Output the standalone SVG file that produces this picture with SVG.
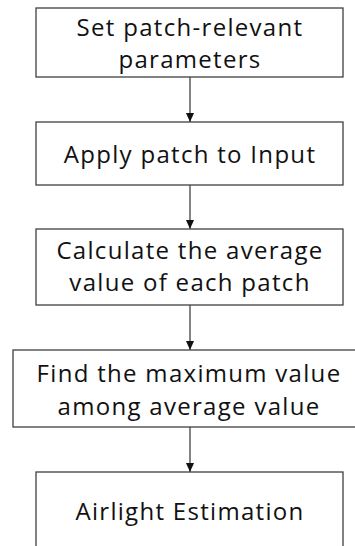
<svg xmlns="http://www.w3.org/2000/svg" width="355" height="546" viewBox="0 0 355 546">
<style>
.box{fill:#fff;stroke:#404040;stroke-width:1.3}
.t{font-family:"Open Sans","Noto Sans",sans-serif;font-size:24px;fill:#111;text-anchor:middle;letter-spacing:1.3px}
.c{stroke:#333;stroke-width:1.2;fill:none;marker-end:url(#ah)}
</style>
<defs>
<marker id="ah" markerWidth="9" markerHeight="8" refX="9" refY="4" orient="auto" markerUnits="userSpaceOnUse">
<path d="M0,0 L9,4 L0,8 Z" fill="#111"/>
</marker>
</defs>
<rect width="355" height="546" fill="#fff"/>
<g id="connectors">
<line class="c" x1="190" y1="77" x2="190" y2="122"/>
<line class="c" x1="190" y1="185" x2="190" y2="229"/>
<line class="c" x1="190" y1="305" x2="190" y2="350"/>
<line class="c" x1="190" y1="427" x2="190" y2="472"/>
</g>
<g id="n1">
<rect class="box" x="36" y="8" width="307" height="69"/>
<text class="t" x="190" y="36">Set patch-relevant</text>
<text class="t" x="190" y="68">parameters</text>
</g>
<g id="n2">
<rect class="box" x="36" y="122" width="307" height="63"/>
<text class="t" x="190" y="163">Apply patch to Input</text>
</g>
<g id="n3">
<rect class="box" x="36" y="229" width="307" height="76"/>
<text class="t" x="190" y="259">Calculate the average</text>
<text class="t" x="190" y="291">value of each patch</text>
</g>
<g id="n4">
<rect class="box" x="13" y="350" width="350" height="77"/>
<text class="t" x="189" y="382">Find the maximum value</text>
<text class="t" x="189" y="415">among average value</text>
</g>
<g id="n5">
<rect class="box" x="36" y="472" width="307" height="90"/>
<text class="t" x="190" y="520">Airlight Estimation</text>
</g>
</svg>
